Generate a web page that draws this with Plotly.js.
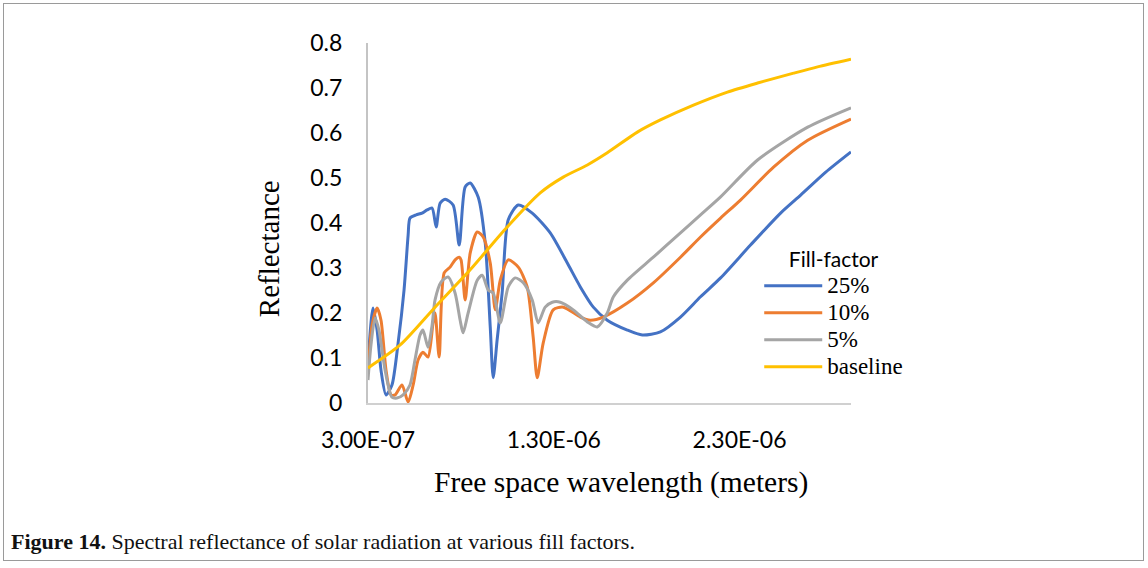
<!DOCTYPE html>
<html>
<head>
<meta charset="utf-8">
<script src="https://cdn.plot.ly/plotly-3.0.1.min.js"></script>
<style>
  html, body { margin: 0; padding: 0; background: #fff; }
  #frame { position: absolute; left: 3px; top: 3px; width: 1139px; height: 556px; border: 1px solid #9a9a9a; }
  #chart { position: absolute; left: 0; top: 0; width: 1148px; height: 568px; }
</style>
</head>
<body>
<div id="frame"></div>
<div id="chart"></div>
<script>
// Wavelengths in micrometres (converted to metres below), reflectance values
const wl25 = [0.300,0.327,0.349,0.370,0.397,0.429,0.462,0.494,0.516,0.526,0.559,0.591,0.618,0.645,0.667,0.688,0.715,0.758,0.791,0.823,0.850,0.893,0.931,0.958,0.974,0.995,1.022,1.055,1.109,1.184,1.281,1.373,1.443,1.513,1.588,1.696,1.777,1.874,1.982,2.090,2.198,2.359,2.521,2.629,2.764,2.900];
const r25  = [0.089,0.211,0.162,0.073,0.018,0.040,0.133,0.251,0.373,0.411,0.418,0.422,0.429,0.433,0.391,0.444,0.453,0.440,0.351,0.480,0.489,0.458,0.356,0.169,0.056,0.140,0.244,0.407,0.440,0.422,0.378,0.311,0.258,0.213,0.184,0.162,0.151,0.158,0.191,0.236,0.278,0.351,0.422,0.462,0.513,0.558];

const wl10 = [0.300,0.322,0.349,0.370,0.397,0.424,0.446,0.483,0.516,0.543,0.570,0.596,0.623,0.650,0.661,0.683,0.710,0.742,0.769,0.791,0.801,0.823,0.850,0.888,0.920,0.958,0.985,1.012,1.055,1.109,1.157,1.189,1.211,1.243,1.297,1.351,1.443,1.497,1.567,1.696,1.836,1.982,2.090,2.198,2.305,2.483,2.667,2.900];
const r10  = [0.069,0.173,0.211,0.184,0.073,0.018,0.018,0.040,0.002,0.040,0.096,0.113,0.102,0.178,0.200,0.102,0.289,0.302,0.318,0.324,0.318,0.229,0.333,0.380,0.369,0.311,0.207,0.273,0.318,0.302,0.258,0.147,0.056,0.133,0.207,0.213,0.191,0.184,0.191,0.222,0.267,0.324,0.369,0.411,0.451,0.524,0.584,0.631];

const wl5 = [0.300,0.316,0.338,0.359,0.392,0.429,0.456,0.489,0.526,0.553,0.580,0.596,0.623,0.645,0.661,0.694,0.731,0.769,0.796,0.812,0.839,0.888,0.915,0.947,0.974,1.012,1.055,1.092,1.136,1.184,1.216,1.254,1.292,1.335,1.405,1.481,1.534,1.588,1.621,1.696,1.836,1.982,2.090,2.198,2.397,2.667,2.900];
const r5  = [0.051,0.129,0.189,0.162,0.073,0.013,0.011,0.018,0.040,0.096,0.151,0.162,0.124,0.173,0.229,0.269,0.280,0.244,0.184,0.156,0.200,0.273,0.284,0.251,0.244,0.178,0.258,0.278,0.267,0.229,0.178,0.213,0.224,0.224,0.207,0.180,0.169,0.200,0.236,0.273,0.324,0.378,0.418,0.458,0.540,0.613,0.656];

const wlBase = [0.300,0.473,0.661,0.850,1.049,1.227,1.351,1.481,1.588,1.750,1.874,2.052,2.235,2.397,2.591,2.720,2.900];
const rBase  = [0.078,0.129,0.213,0.296,0.391,0.467,0.502,0.529,0.556,0.602,0.629,0.662,0.691,0.711,0.733,0.747,0.764];

const seriesNames = ["25%", "10%", "5%", "baseline"];
const xTickVals = [3.0e-7, 1.3e-6, 2.3e-6];
const xTickText = ["3.00E-07", "1.30E-06", "2.30E-06"];
const yTickVals = [0, 0.1, 0.2, 0.3, 0.4, 0.5, 0.6, 0.7, 0.8];
const yTickText = ["0", "0.1", "0.2", "0.3", "0.4", "0.5", "0.6", "0.7", "0.8"];

const toM = a => a.map(v => v * 1e-6);
const colors = ["#4472C4", "#ED7D31", "#A5A5A5", "#FFC000"];
const xs = [wl25, wl10, wl5, wlBase];
const ys = [r25, r10, r5, rBase];

const sans = "Lato, 'Open Sans', sans-serif";
const serif = "'Liberation Serif', 'DejaVu Serif', serif";

const traces = xs.map((x, i) => ({
  type: "scatter", mode: "lines",
  x: toM(x), y: ys[i],
  name: '<span style="font-family:Liberation Serif;font-size:23px">' + seriesNames[i] + '</span>',
  line: { color: colors[i], width: 3, shape: "spline", smoothing: 0.7 }
}));

const layout = {
  width: 1148, height: 568,
  margin: { l: 368, r: 297, t: 43, b: 165 },
  paper_bgcolor: "rgba(0,0,0,0)", plot_bgcolor: "rgba(0,0,0,0)",
  showlegend: true,
  xaxis: {
    range: [3.0e-7, 2.9e-6], tickvals: xTickVals, ticktext: xTickText,
    showgrid: false, zeroline: false, showline: true, linecolor: "#D0D0D0", linewidth: 2,
    ticks: "outside", ticklen: 15, tickcolor: "rgba(0,0,0,0)",
    tickfont: { family: sans, size: 23, color: "#000" }
  },
  yaxis: {
    range: [0, 0.8], tickvals: yTickVals, ticktext: yTickText,
    showgrid: false, zeroline: false, showline: true, linecolor: "#C4C4C4", linewidth: 2,
    ticks: "outside", ticklen: 19, tickcolor: "rgba(0,0,0,0)",
    tickfont: { family: sans, size: 23, color: "#000" }
  },
  legend: {
    x: 0.81, y: 0.475, xanchor: "left", yanchor: "top",
    bgcolor: "rgba(0,0,0,0)", itemwidth: 58,
    font: { family: serif, size: 18.5, color: "#000" },
    title: { text: '<span style="font-family:Lato;font-size:21px">Fill-factor</span>', side: "top center", font: { family: sans, size: 27, color: "#000" } },
    tracegroupgap: 0
  },
  annotations: [
    { xref: "paper", yref: "paper", x: 0.523, y: -0.22, xanchor: "center", yanchor: "middle",
      text: "Free space wavelength (meters)", showarrow: false,
      font: { family: serif, size: 29.5, color: "#000" } },
    { xref: "paper", yref: "paper", x: -0.205, y: 0.43, xanchor: "center", yanchor: "middle",
      text: "Reflectance", textangle: -90, showarrow: false,
      font: { family: serif, size: 29, color: "#000" } },
    { xref: "paper", yref: "paper", x: -0.744, y: -0.385, xanchor: "left", yanchor: "middle",
      text: "<b>Figure 14.</b> Spectral reflectance of solar radiation at various fill factors.", showarrow: false,
      font: { family: serif, size: 22, color: "#111" } }
  ]
};

Plotly.newPlot("chart", traces, layout, { staticPlot: true, displayModeBar: false });
</script>
</body>
</html>
